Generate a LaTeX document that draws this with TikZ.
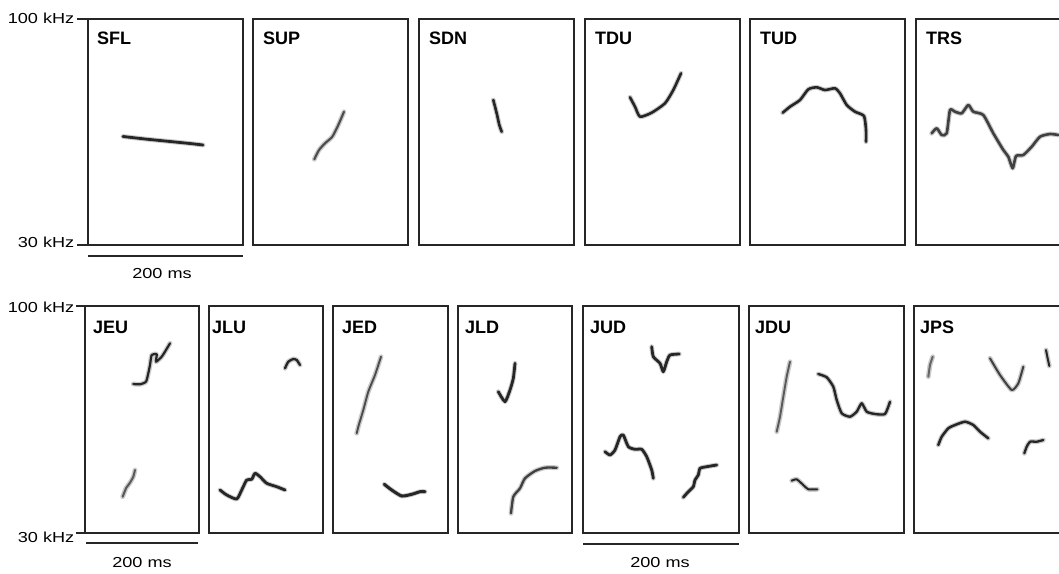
\documentclass[tikz,border=0pt]{standalone}
\usepackage{fontspec}
\usepackage{graphicx}
\setmainfont{Liberation Sans}
\tikzset{
  box/.style={draw=black!85, line width=1.4pt},
  bar/.style={draw=black!85, line width=1.2pt},
  tick/.style={draw=black!85, line width=1.2pt},
  halo/.style={draw=black!45, line width=4.8pt, line cap=round, line join=round, opacity=0.45},
  core/.style={draw=black!85, line width=2.6pt, line cap=round, line join=round},
  lab/.style={font=\bfseries\fontsize{18}{20}\selectfont, anchor=base west, inner sep=0pt},
  axl/.style={font=\fontsize{14.5}{16}\selectfont, inner sep=0pt},
}
\newcommand{\calltrace}[2][]{%
  \draw[halo] plot[smooth,tension=0.35] coordinates {#2};
  \draw[core,#1] plot[smooth,tension=0.35] coordinates {#2};}
\newcommand{\wide}[1]{\scalebox{1.25}[1]{#1}}
\begin{document}
\begin{tikzpicture}[x=1pt,y=-1pt]
\useasboundingbox (0,0) rectangle (1059,573);
\clip (0,0) rectangle (1059,573);
% ---------------- top row ----------------
\foreach \xa/\xb in {88/243,253/408,419/574,585/740,750/905}
  \draw[box] (\xa,19) rectangle (\xb,245);
\draw[box] (1065,19) -- (916,19) -- (916,245) -- (1065,245);
\node[lab] (sfl) at (97,44) {SFL};
\node[lab] (sup) at (263,44) {SUP};
\node[lab] (sdn) at (429,44) {SDN};
\node[lab] (tdu) at (595,44) {TDU};
\node[lab] (tud) at (760,44) {TUD};
\node[lab] (trs) at (926,44) {TRS};
% axes top
\draw[tick] (77,19) -- (88,19);
\draw[tick] (77,245) -- (88,245);
\node[axl, anchor=east] (t100) at (74.5,18) {\wide{100 kHz}};
\node[axl, anchor=east] (t30) at (74.5,242) {\wide{30 kHz}};
\draw[bar] (88,256) -- (243,256);
\node[axl, anchor=base] (t200) at (162,278) {\wide{200 ms}};
% traces top
\calltrace[line width=2.8pt]{(123,136.5) (145,139) (170,141.5) (190,143.5) (203,145)}
\calltrace[draw=black!70,line width=2.1pt]{(314.3,159.3) (319,150) (325,143.3) (332.3,136.7) (338.3,125) (344,111.7)}
\calltrace{(493.3,100) (496.7,113.3) (499.3,125) (501.7,131.7)}
\calltrace{(630,97.3) (635,106.7) (640,116.7) (651.7,112.7) (665,103.3) (673.3,90) (681,73.3)}
\calltrace{(782.7,112.7) (790,106.7) (800,100) (808.3,89.3) (816.7,87.3) (825,90) (835,88.3) (840,93.3) (846.7,105) (855,111.7) (864,116) (866,130) (866,141.7)}
\calltrace[draw=black!75]{(931.7,133.3) (936.7,128.3) (941.7,135) (946.7,133.3) (950,110) (955,111.7) (961.7,113.3) (968.3,105) (973.3,111.7) (983.3,115) (993.3,133.3) (1003.3,150) (1008.3,156.7) (1012.7,168.3) (1016,156) (1023.3,155) (1031.7,146.7) (1040,136.7) (1050,134) (1058.3,135)}
% ---------------- bottom row ----------------
\foreach \xa/\xb in {85/199,209/323,333/448,458/572,583/739,749/904}
  \draw[box] (\xa,306) rectangle (\xb,533);
\draw[box] (1065,306) -- (914,306) -- (914,533) -- (1065,533);
\node[lab] (jeu) at (93,333) {JEU};
\node[lab] (jlu) at (212,333) {JLU};
\node[lab] (jed) at (342,333) {JED};
\node[lab] (jld) at (465,333) {JLD};
\node[lab] (jud) at (590,333) {JUD};
\node[lab] (jdu) at (755,333) {JDU};
\node[lab] (jps) at (920,333) {JPS};
\draw[tick] (76,306) -- (85,306);
\draw[tick] (76,533) -- (85,533);
\node[axl, anchor=east] (b100) at (74.5,307) {\wide{100 kHz}};
\node[axl, anchor=east] (b30) at (74.5,537) {\wide{30 kHz}};
\draw[bar] (86,543) -- (198,543);
\node[axl, anchor=base] (b200a) at (142,567.5) {\wide{200 ms}};
\draw[bar] (583,544) -- (739,544);
\node[axl, anchor=base] (b200b) at (660,567) {\wide{200 ms}};
% traces bottom
\calltrace[line width=2.2pt]{(133.3,384) (140,384.3) (146,381.7) (148.3,373.3) (150,365) (151.7,355) (156.7,354.3) (156,361.7) (161.7,356.7) (166,350) (170,343.3)}
\calltrace[draw=black!65,line width=2pt]{(122.7,496.7) (126,488.3) (130,482.7) (133.3,476.7) (135,470)}
\calltrace[line width=2.3pt]{(285,368.3) (288.3,361.7) (293.3,359) (296.7,360) (300,365)}
\calltrace[line width=2.8pt]{(220,490) (226.7,495) (236.7,499) (241.7,490) (246.7,480) (251.7,479.3) (255,473.3) (260,476.7) (266.7,483.3) (276.7,486.7) (285,490)}
\calltrace[draw=black!70,line width=1.9pt]{(381,356.7) (375,375) (368.3,391.7) (363.3,410) (358.3,426.7) (356.7,433.3)}
\calltrace[line width=3pt]{(384.3,484.3) (391.7,490) (401.7,496) (411.7,494.3) (420,491.7) (425,491.7)}
\calltrace[line width=2.8pt]{(498.3,391.7) (505,401.7) (510,390) (513.3,378.3) (515,363.3)}
\calltrace[draw=black!75,line width=2.3pt]{(511,513.3) (513.3,496.7) (520,488.3) (525,478.3) (535,471) (545,467.7) (556.7,467.7)}
\calltrace[line width=2.8pt]{(651.7,346.7) (653.3,356.7) (660,363.3) (663.3,371.7) (666.7,361.7) (670,355) (679.3,354)}
\calltrace[line width=2.8pt]{(605,451.7) (610,455) (615,450) (620,436.7) (623.3,435) (628.3,446.7) (635,449.3) (641.7,449.3) (646.7,456.7) (651.7,470) (653.3,478.3)}
\calltrace[line width=2.8pt]{(683.3,497.3) (688.3,491.7) (693.3,486.7) (695,480) (698.3,475) (700,468.3) (706.7,466.7) (716.7,465)}
\calltrace[draw=black!65,line width=1.9pt]{(790,361.7) (786.7,376.7) (783.3,396.7) (780,416.7) (776.7,431.7)}
\calltrace[line width=2.4pt]{(818.3,374) (826.7,377.3) (833.3,386.7) (836.7,400) (841.7,413.3) (850,416.7) (856.7,411.7) (861.7,403.3) (866.7,411.7) (875,414) (885,414) (890,401.7)}
\calltrace[line width=2pt]{(791.7,480.7) (796.7,479.3) (803.3,485) (808.3,489.3) (817.3,489.3)}
\calltrace[draw=black!60,line width=2pt]{(932.7,356.7) (930,365) (928.3,376.7)}
\calltrace[draw=black!75,line width=2pt]{(990,358.3) (1000,375) (1011.7,390) (1018.3,383.3) (1023.3,366.7)}
\calltrace[line width=2pt]{(1046,350) (1047.3,356.7) (1049.3,366)}
\calltrace[line width=2.5pt]{(938.3,445) (941.7,436.7) (948.3,428.3) (955,425) (965,421.7) (973.3,425) (980,431.7) (988.3,438.3)}
\calltrace[line width=2.3pt]{(1024.3,453.3) (1026.7,446.7) (1030,441.7) (1036.7,441.7) (1043.3,440)}
\end{tikzpicture}
\end{document}
